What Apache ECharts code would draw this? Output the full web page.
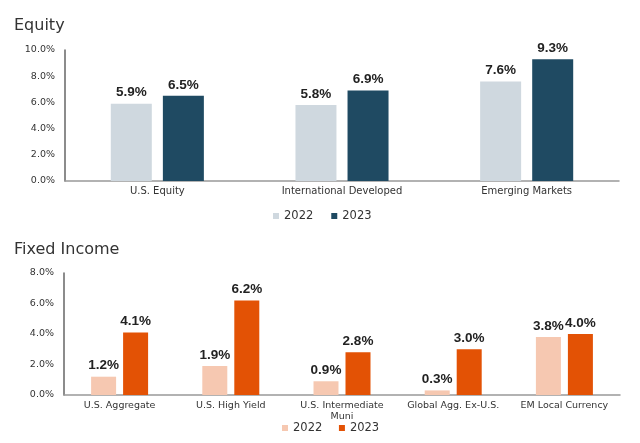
<!DOCTYPE html>
<html><head><meta charset="utf-8">
<script src="https://cdn.jsdelivr.net/npm/echarts@6/dist/echarts.min.js"></script>
<style>html,body{margin:0;padding:0;background:#fff}#c{width:640px;height:443px}</style>
</head><body><div id="c"></div>
<script>
const equityCats = ['U.S. Equity', 'International Developed', 'Emerging Markets'];
const equity2022 = [5.9, 5.8, 7.6];
const equity2023 = [6.5, 6.9, 9.3];
const fiCats = ['U.S. Aggregate', 'U.S. High Yield', 'U.S. Intermediate\nMuni', 'Global Agg. Ex-U.S.', 'EM Local Currency'];
const fi2022 = [1.2, 1.9, 0.9, 0.3, 3.8];
const fi2023 = [4.1, 6.2, 2.8, 3.0, 4.0];
const seriesNames = ['2022', '2023'];

const FONT = 'DejaVu Sans, sans-serif';
const LFONT = 'Liberation Sans, Arial, sans-serif';
const chart = echarts.init(document.getElementById('c'));
const pct = v => v.toFixed(1) + '%';
const lbl = (size) => ({show: true, position: 'top', distance: 4, formatter: p => pct(p.value), fontFamily: LFONT, fontWeight: 'bold', fontSize: size, color: '#222'});
const yAx = (gi, max) => ({gridIndex: gi, type: 'value', min: 0, max: max, interval: 2,
  axisLine: {show: true, lineStyle: {color: '#666', width: 1.5}}, axisTick: {show: false}, splitLine: {show: false},
  axisLabel: {formatter: v => v.toFixed(1) + '%', fontFamily: FONT, fontSize: 9.5, color: '#333', margin: 10}});
const xAx = (gi, cats, fs) => ({gridIndex: gi, type: 'category', data: cats,
  axisLine: {lineStyle: {color: '#999', width: 1.5}}, axisTick: {show: false},
  axisLabel: {fontFamily: FONT, fontSize: fs, color: '#333', margin: 5, interval: 0, lineHeight: 11}});

chart.setOption({
  animation: false,
  title: [
    {text: 'Equity', left: 9, top: 13, textStyle: {fontFamily: FONT, fontSize: 16, fontWeight: 'normal', color: '#333'}},
    {text: 'Fixed Income', left: 9, top: 237, textStyle: {fontFamily: FONT, fontSize: 16, fontWeight: 'normal', color: '#333'}}
  ],
  legend: [
    {data: [{name: '2022', itemStyle: {color: '#cfd8df'}}, {name: '2023', itemStyle: {color: '#1f4a62'}}], left: 268, top: 205, icon: 'rect', itemWidth: 6, itemHeight: 6, itemGap: 18,
      textStyle: {fontFamily: FONT, fontSize: 11.5, color: '#333'}, selectedMode: false},
    {data: [{name: '2022 ', itemStyle: {color: '#f6c8b1'}}, {name: '2023 ', itemStyle: {color: '#e35205'}}], left: 277, top: 417, icon: 'rect', itemWidth: 6, itemHeight: 6, itemGap: 13,
      textStyle: {fontFamily: FONT, fontSize: 11.5, color: '#333'}, selectedMode: false}
  ],
  grid: [
    {left: 65, right: 21, top: 50, height: 131},
    {left: 64, right: 20, top: 273, height: 122}
  ],
  xAxis: [xAx(0, equityCats, 10), xAx(1, fiCats, 9.5)],
  yAxis: [yAx(0, 10), yAx(1, 8)],
  series: [
    {name: seriesNames[0], type: 'bar', xAxisIndex: 0, yAxisIndex: 0, data: equity2022, barWidth: 41, barGap: '27%', itemStyle: {color: '#cfd8df'}, label: lbl(13.5)},
    {name: seriesNames[1], type: 'bar', xAxisIndex: 0, yAxisIndex: 0, data: equity2023, barWidth: 41, barGap: '27%', itemStyle: {color: '#1f4a62'}, label: lbl(13.5)},
    {name: seriesNames[0] + ' ', type: 'bar', xAxisIndex: 1, yAxisIndex: 1, data: fi2022, barWidth: 25, barGap: '28%', itemStyle: {color: '#f6c8b1'}, label: lbl(13.5)},
    {name: seriesNames[1] + ' ', type: 'bar', xAxisIndex: 1, yAxisIndex: 1, data: fi2023, barWidth: 25, barGap: '28%', itemStyle: {color: '#e35205'}, label: lbl(13.5)}
  ]
});
</script></body></html>
